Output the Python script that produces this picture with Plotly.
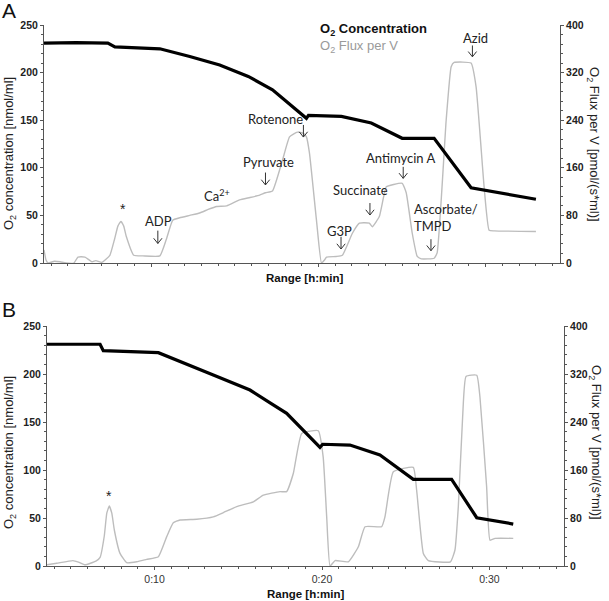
import plotly.graph_objects as go

# ---------------- data (time in minutes) ----------------
# Panel A
a_conc_t = [3.58, 5.5, 7.40, 7.82, 10.51, 12.3, 14.09, 15.8, 17.25, 19.28, 19.40, 21.37, 23.16, 25.01, 26.92, 29.13, 33.01]
a_conc = [231, 231.5, 231, 227, 225, 217, 208, 196, 182, 152, 155, 154, 147, 131, 131, 79, 67]

a_flux_t = [3.58, 3.7, 3.82, 4.2, 4.54, 4.9, 5.37, 5.61, 6.03, 6.45, 6.68, 7.04, 7.52, 7.8, 8.0, 8.18, 8.35, 8.5,
            8.95, 9.5, 10.51, 10.9, 11.28, 11.70, 12.3, 12.89, 13.4, 13.91, 14.51, 15.28, 15.9, 16.48, 16.83, 17.25,
            17.85, 18.27, 18.74, 19.1, 19.28, 19.46, 19.88, 20.18, 20.36, 20.48, 21.07, 21.43, 22.03, 22.45, 23.04,
            23.22, 23.64, 24.06, 24.5, 25.01, 25.25, 25.61, 25.91, 26.15, 26.92, 27.10, 27.64, 27.94, 28.12, 29.13,
            29.43, 29.91, 30.21, 30.51, 33.01]
a_flux = [22, 5, 0, 3, 2, 0, 0, 10, 10, 2, 4, 1, 13, 40, 62, 70, 62, 45,
          13, 12, 12, 40, 72, 76, 80, 84, 90, 95, 96, 106, 110, 114, 118, 121,
          173, 212, 220, 218, 212, 185, 72, 0, 5, 10, 11, 13, 50, 67, 67,
          61, 78, 128, 132, 134, 118, 50, 11, 7, 8, 17, 240, 330, 337, 336,
          296, 128, 55, 54, 53]

# Panel B
b_conc_t = [3.56, 6.75, 6.94, 10.23, 13.51, 15.70, 16.90, 17.89, 19.88, 20.04, 21.67, 23.46, 25.45, 27.74, 29.24, 31.42]
b_conc = [231, 231, 224.3, 222.2, 199, 183.3, 170, 159, 123.6, 126.8, 126, 115.6, 90.3, 90.3, 50.3, 43.7]

b_flux_t = [3.56, 4.16, 5.13, 5.5, 5.85, 6.5, 6.75, 7.0, 7.15, 7.30, 7.45, 7.6, 7.94, 8.34, 8.94, 9.53, 10.23,
            10.73, 11.12, 11.52, 12.52, 13.51, 14.11, 14.91, 15.90, 16.50, 17.49, 17.89, 18.29, 18.79, 19.78,
            20.07, 20.28, 20.48, 20.78, 21.57, 22.17, 22.57, 23.56, 23.76, 24.26, 25.45, 25.65, 26.05, 26.35,
            27.67, 27.94, 28.14, 28.40, 28.60, 29.24, 29.43, 29.83, 30.03, 30.33, 31.42]
b_flux = [2, 4.5, 9, 6, 2, 8, 14.5, 50, 88, 100, 88, 60, 21, 5.5, 7, 11, 15.5,
          49, 72, 76.7, 78, 82, 89, 99, 107, 118, 124, 124, 154.5, 221, 225.5,
          182, 82, 0, 9, 7, 32, 65.5, 65.5, 82, 157, 164.5, 126.7, 21, 9,
          7, 26.7, 99, 250, 316, 318, 282, 132, 43, 46, 46]

b_tick_vals = [10, 20, 30]
b_tick_text = ["0:10", "0:20", "0:30"]

# annotation labels (text, x, y) and arrows (x, tip y, tail y) in data units of panel A
a_labels = [
    ("ADP", 10.45, 44.1),
    ("Pyruvate", 17.01, 106),
    ("Rotenone", 17.43, 151.2),
    ("G3P", 21.25, 33.9),
    ("Succinate", 22.54, 76.7),
    ("Antimycin A", 24.89, 110),
    ("Azid", 29.37, 235.9),
]
a_arrows = [
    (10.39, 20.5, 34.0),
    (16.83, 82, 95.0),
    (19.10, 132.3, 145.0),
    (21.35, 14.7, 27.5),
    (23.08, 50.4, 63.0),
    (25.07, 88.9, 101.0),
    (29.21, 216.6, 228.5),
    (26.73, 12.9, 25.0),
]

W, H = 609, 601
def px(x):
    return x / W
def py(y):
    return 1 - y / H

AX = "#555555"
GRAY = "#bdbdbd"
FONT = "Liberation Sans"
LBL = "Lato"

fig = go.Figure()
fig.add_trace(go.Scatter(x=a_flux_t, y=a_flux, xaxis="x", yaxis="y", mode="lines",
                         line=dict(color=GRAY, width=1.4, shape="spline", smoothing=0.4), showlegend=False))
fig.add_trace(go.Scatter(x=a_conc_t, y=a_conc, xaxis="x", yaxis="y2", mode="lines",
                         line=dict(color="black", width=3.2), showlegend=False))
fig.add_trace(go.Scatter(x=b_flux_t, y=b_flux, xaxis="x2", yaxis="y3", mode="lines",
                         line=dict(color=GRAY, width=1.4, shape="spline", smoothing=0.4), showlegend=False))
fig.add_trace(go.Scatter(x=b_conc_t, y=b_conc, xaxis="x2", yaxis="y4", mode="lines",
                         line=dict(color="black", width=3.2), showlegend=False))

tickfont_b = dict(family=FONT, size=10.5, color="#222", weight="bold")
common_y = dict(showline=True, linecolor=AX, linewidth=1, showgrid=False, zeroline=False,
                ticks="outside", ticklen=3, tickcolor=AX, automargin=False, tickfont=tickfont_b)
common_x = dict(showline=True, linecolor=AX, linewidth=1, showgrid=False, zeroline=False,
                ticks="outside", ticklen=3, tickcolor=AX, automargin=False,
                range=[3.58, 34.45], minor=dict(dtick=1, ticklen=2, tickcolor=AX, ticks="outside"))

fig.update_layout(
    width=W, height=H, margin=dict(l=0, r=0, t=0, b=0),
    paper_bgcolor="white", plot_bgcolor="white", showlegend=False,
    xaxis=dict(domain=[px(44), px(560)], anchor="y", showticklabels=False, tickvals=b_tick_vals, **common_x),
    yaxis=dict(domain=[py(263), py(25)], anchor="x", side="right", range=[0, 400], dtick=80,
               minor=dict(dtick=16, ticklen=2, tickcolor=AX, ticks="outside"), **common_y),
    yaxis2=dict(anchor="x", overlaying="y", side="left", range=[0, 250], dtick=50,
                minor=dict(dtick=10, ticklen=2, tickcolor=AX, ticks="outside"), **common_y),
    xaxis2=dict(domain=[px(47), px(564)], anchor="y3", tickvals=b_tick_vals, ticktext=b_tick_text,
                tickfont=dict(family=FONT, size=10.5, color="#333"), **common_x),
    yaxis3=dict(domain=[py(566), py(326)], anchor="x2", side="right", range=[0, 400], dtick=80,
                minor=dict(dtick=16, ticklen=2, tickcolor=AX, ticks="outside"), **common_y),
    yaxis4=dict(anchor="x2", overlaying="y3", side="left", range=[0, 250], dtick=50,
                minor=dict(dtick=10, ticklen=2, tickcolor=AX, ticks="outside"), **common_y),
)

ann = []
shapes = []
C = dict(xanchor="center", yanchor="middle")
lblfont = dict(family=LBL, size=13, color="#222")
for text, tx, ty in a_labels:
    ann.append(dict(text=text, x=tx, y=ty, xref="x", yref="y2", showarrow=False, font=lblfont, **C))
# open arrows (stem + V head) for the injection marks
HW, HH = 0.25, 5.5
for ax_, tip, tail in a_arrows:
    shapes.append(dict(type="line", xref="x", yref="y2", x0=ax_, x1=ax_, y0=tail, y1=tip,
                       line=dict(color="#333", width=1)))
    shapes.append(dict(type="path", xref="x", yref="y2",
                       path=f"M {ax_ - HW},{tip + HH} L {ax_},{tip} L {ax_ + HW},{tip + HH}",
                       line=dict(color="#333", width=1)))
# Ascorbate/TMPD (left aligned two lines)
ann.append(dict(text="Ascorbate/<br>TMPD", x=25.59, y=47.3, xref="x", yref="y2", showarrow=False,
                xanchor="left", yanchor="middle", align="left", font=lblfont))
ann.append(dict(text="Ca<sup>2+</sup>", x=13.91, y=71.4, xref="x", yref="y2", showarrow=False, font=lblfont, **C))
ann.append(dict(text="*", x=8.30, y=56.7, xref="x", yref="y2", showarrow=False,
                font=dict(family=FONT, size=14, color="#222"), **C))
ann.append(dict(text="*", x=7.30, y=73, xref="x2", yref="y4", showarrow=False,
                font=dict(family=FONT, size=14, color="#222"), **C))

# legend
ann.append(dict(text="<b>O<sub>2</sub> Concentration</b>", x=px(318), y=py(30), xref="paper", yref="paper",
                xanchor="left", yanchor="middle", showarrow=False, font=dict(family=FONT, size=13, color="#111")))
ann.append(dict(text="O<sub>2</sub> Flux per V", x=px(318), y=py(46), xref="paper", yref="paper",
                xanchor="left", yanchor="middle", showarrow=False, font=dict(family=FONT, size=13, color="#9a9a9a")))

# axis titles
ttl = dict(family=FONT, size=13, color="#222")
for (xx, yy) in [(9, 154), (9, 453)]:
    ann.append(dict(text="O<sub>2</sub> concentration [nmol/ml]", x=px(xx), y=py(yy), xref="paper", yref="paper",
                    textangle=-90, showarrow=False, font=ttl, **C))
for (xx, yy) in [(594, 144), (596, 442)]:
    ann.append(dict(text="O<sub>2</sub> Flux per V [pmol/(s*ml)]", x=px(xx), y=py(yy), xref="paper", yref="paper",
                    textangle=90, showarrow=False, font=ttl, **C))
for (xx, yy) in [(304, 278), (305, 594)]:
    ann.append(dict(text="<b>Range [h:min]</b>", x=px(xx), y=py(yy), xref="paper", yref="paper",
                    showarrow=False, font=dict(family=FONT, size=11.5, color="#111"), **C))
# panel letters
for (t, xx, yy) in [("A", 9, 11), ("B", 9, 309)]:
    ann.append(dict(text=t, x=px(xx), y=py(yy), xref="paper", yref="paper", showarrow=False,
                    font=dict(family=FONT, size=21, color="#111"), **C))

fig.update_layout(annotations=ann, shapes=shapes)
fig.write_html("out.html", config={"displayModeBar": False},
               post_script="document.body.style.margin='0';document.body.style.overflow='hidden';")
